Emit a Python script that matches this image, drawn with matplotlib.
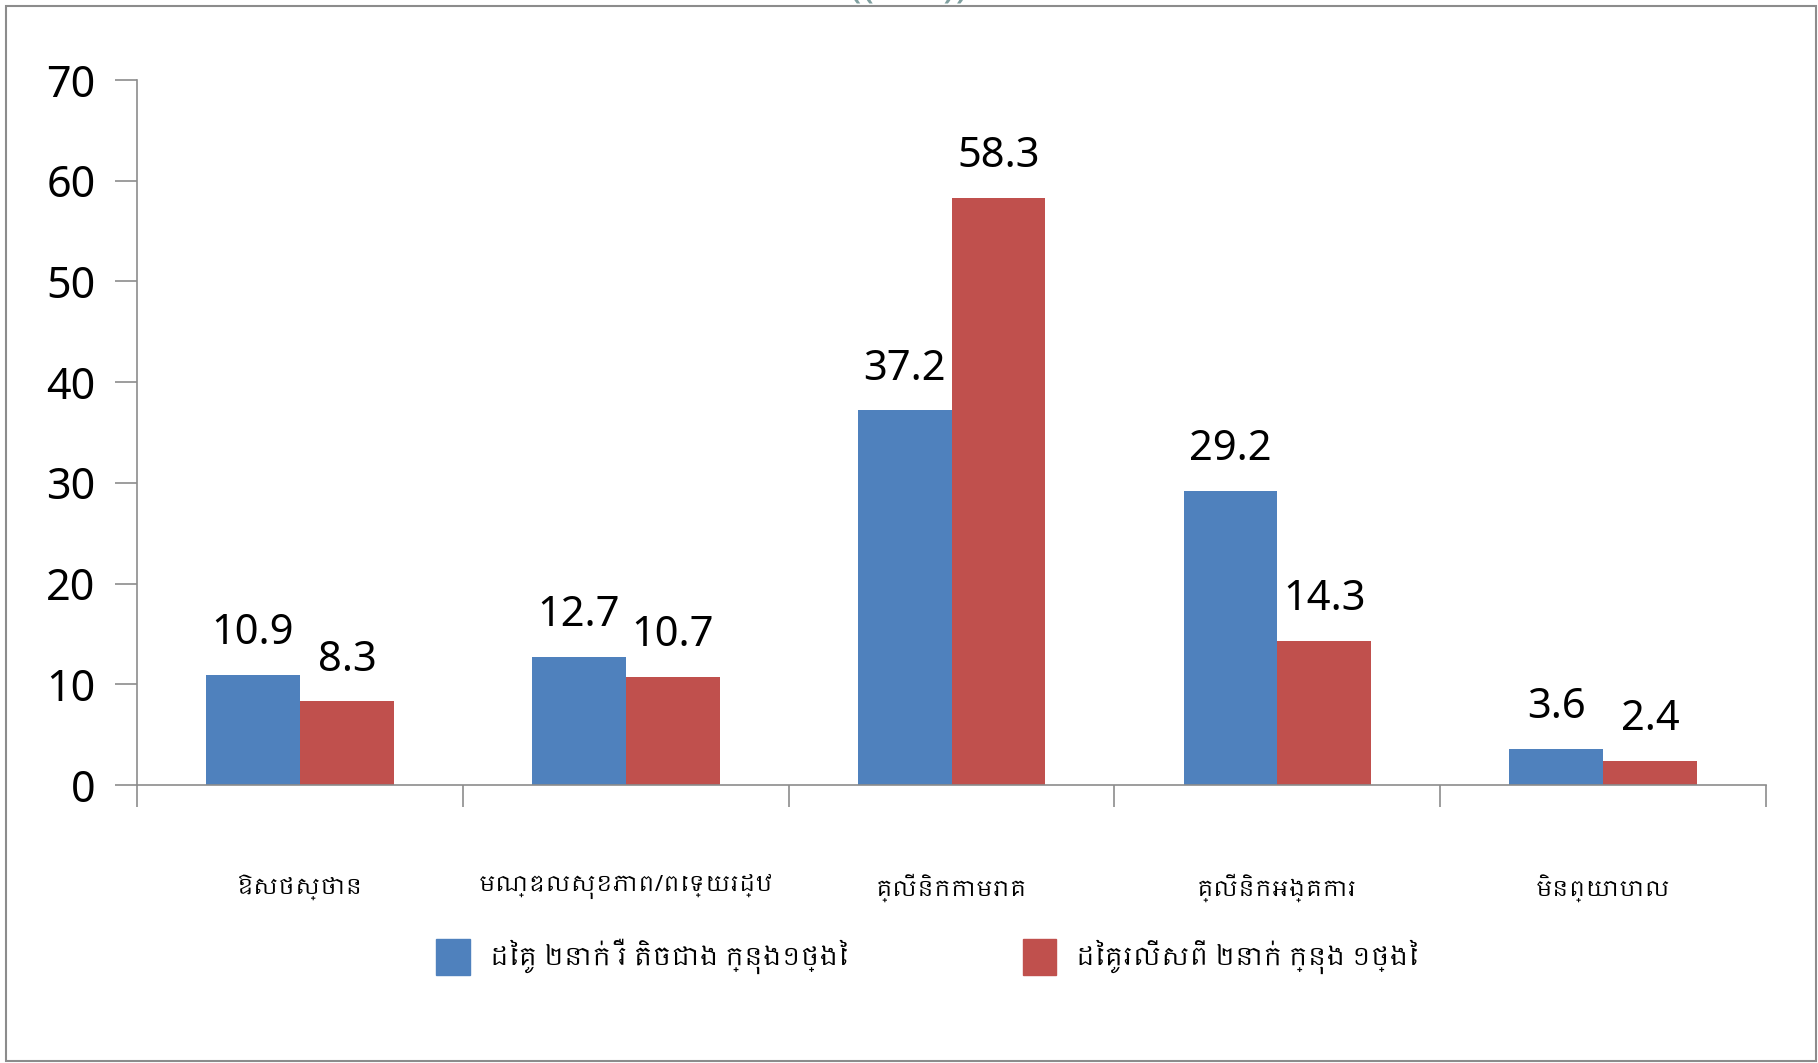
import numpy as np
import matplotlib.pyplot as plt
from matplotlib import font_manager
from matplotlib.ft2font import FT2Font
from matplotlib.patches import Rectangle, Patch

categories = ["ឱសថស្ថាន", "មណ្ឌលសុខភាព/ពេទ្យរដ្ឋ", "គ្លីនិកកាមរោគ", "គ្លីនិកអង្គការ", "មិនព្យាបាល"]
series_names = ["ដៃគូ ២នាក់ រឺ តិចជាង ក្នុង១ថ្ងៃ", "ដៃគូរលើសពី ២នាក់ ក្នុង ១ថ្ងៃ"]
vals_le2 = [10.9, 12.7, 37.2, 29.2, 3.6]
vals_gt2 = [8.3, 10.7, 58.3, 14.3, 2.4]
yticks = [0, 10, 20, 30, 40, 50, 60, 70]

# installed fonts that have Khmer glyphs, non-monospace ones first
khmer_fonts = []
for f in font_manager.fontManager.ttflist:
	try:
		if 0x1780 in FT2Font(f.fname).get_charmap() and f.name not in khmer_fonts:
			khmer_fonts.append(f.name)
	except Exception:
		pass
khmer_fonts.sort(key=lambda n: ('Mono' in n, 'Khmer' not in n))
plt.rcParams['font.family'] = ['Noto Sans'] + khmer_fonts[:1] + ['DejaVu Sans']

blue = '#4F81BD'
red = '#C0504D'
grey = '#8C8C8C'

fig = plt.figure(figsize=(18.18, 10.63), dpi=100)
ax = fig.add_axes([0.0754, 0.2615, 0.896, 0.6632])

x = np.arange(len(categories))
w = 0.288
b1 = ax.bar(x - w/2, vals_le2, w, color=blue, label=series_names[0])
b2 = ax.bar(x + w/2, vals_gt2, w, color=red, label=series_names[1])
ax.bar_label(b1, labels=[str(v) for v in vals_le2], padding=15, fontsize=30)
ax.bar_label(b2, labels=[str(v) for v in vals_gt2], padding=15, fontsize=30)

ax.set_xlim(-0.5, len(categories) - 0.5)
ax.set_ylim(0, 70)
ax.set_yticks(yticks)
ax.set_yticklabels([str(t) for t in yticks], fontsize=31)
ax.set_xticks(np.arange(len(categories) + 1) - 0.5, minor=False)
ax.set_xticklabels([])
ax.set_xticks(x, minor=True)
ax.set_xticklabels(categories, minor=True, fontsize=16)
ax.tick_params(axis='x', which='minor', length=0, pad=64)
ax.tick_params(axis='x', which='major', length=16, color=grey, width=1.2)
ax.tick_params(axis='y', length=16, color=grey, width=1.2, pad=14)
for s in ['top', 'right']:
	ax.spines[s].set_visible(False)
for s in ['left', 'bottom']:
	ax.spines[s].set_color(grey)
	ax.spines[s].set_linewidth(1.2)

handles = [Patch(color=blue), Patch(color=red)]
fig.legend(handles, series_names, loc='center', bbox_to_anchor=(0.51, 0.1), ncol=2,
	frameon=False, fontsize=18, handlelength=1.35, handleheight=1.8, columnspacing=7)

# page frame and clipped page number at the top
fig.patches.append(Rectangle((0.0035, 0.002), 0.9955, 0.9925, transform=fig.transFigure,
	fill=False, edgecolor=grey, linewidth=1.5))
fig.text(0.5, 0.994, "(( 13 ))", ha='center', va='bottom', fontsize=30,
	fontweight='bold', color='#7F9F9F')

fig.savefig('out.png', dpi=100)
